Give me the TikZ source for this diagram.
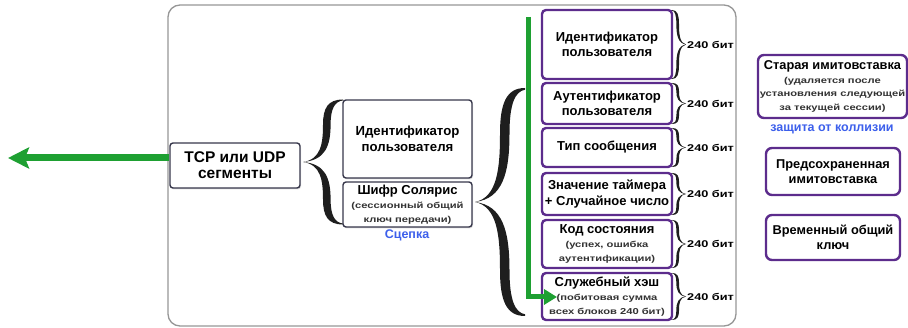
\documentclass[tikz,border=0pt]{standalone}
\usepackage{fontspec}
\setmainfont{Liberation Sans}
\newfontfamily\widesans[FakeStretch=1.3]{Liberation Sans}
\usetikzlibrary{shadows,arrows.meta}

\definecolor{framegray}{RGB}{150,150,150}
\definecolor{darkline}{RGB}{55,55,75}
\definecolor{purp}{RGB}{92,44,140}
\definecolor{grn}{RGB}{30,160,50}
\definecolor{linkblue}{RGB}{60,95,235}
\definecolor{subtext}{RGB}{50,50,50}
\definecolor{bracecol}{RGB}{30,30,30}

% filled typographic curly brace: tip at (#1,#2), arms reach horizontally by #3, half height #4
\newcommand\curlybr[4]{%
  \fill[bracecol, shift={(#1,#2)}, xscale=#3, yscale=#4]
    (1,1) .. controls (0.62,1) and (0.5,0.86) .. (0.5,0.6)
          .. controls (0.5,0.3) and (0.45,0.04) .. (0,0)
          .. controls (0.45,-0.04) and (0.5,-0.3) .. (0.5,-0.6)
          .. controls (0.5,-0.86) and (0.62,-1) .. (1,-1)
    -- (1,-0.985) .. controls (0.8,-0.97) and (0.69,-0.86) .. (0.69,-0.6)
          .. controls (0.69,-0.25) and (0.55,-0.03) .. (0,0)
          .. controls (0.55,0.03) and (0.69,0.25) .. (0.69,0.6)
          .. controls (0.69,0.86) and (0.8,0.97) .. (1,0.985) -- cycle;}

% small explanatory lines inside the boxes
\newcommand\sm{\color{subtext}\widesans\bfseries\fontsize{8.6}{11.5}\selectfont}

\tikzset{
  panel/.style={draw=framegray, line width=1.3pt, rounded corners=12pt, inner sep=0pt},
  darkbox/.style={draw=darkline, line width=1.4pt, rounded corners=3pt, fill=white,
    drop shadow={shadow xshift=1pt, shadow yshift=-1.5pt, opacity=.25},
    align=center, inner sep=0pt, font=\bfseries\fontsize{13.2}{15.5}\selectfont},
  pbox/.style={draw=purp, line width=2.4pt, rounded corners=4pt, fill=white,
    align=center, inner sep=0pt, font=\bfseries\fontsize{13}{15.5}\selectfont},
  sbox/.style={draw=purp, line width=2.4pt, rounded corners=6pt, fill=white,
    align=center, inner sep=0pt, font=\bfseries\fontsize{12.8}{15}\selectfont},
  bits/.style={anchor=west, inner sep=0pt, font=\widesans\bfseries\fontsize{9.8}{11}\selectfont},
  note/.style={inner sep=0pt, text=linkblue, font=\bfseries\fontsize{12.5}{13}\selectfont},
  gline/.style={draw=grn, line width=5pt},
  garrow/.style={draw=grn, line width=7pt, -{Stealth[length=21pt,width=21pt,inset=4pt]}},
}

\begin{document}
\begin{tikzpicture}[x=1pt, y=-1pt]
\useasboundingbox (0,0) rectangle (908,328);

% outer panel
\node[panel, minimum width=568pt, minimum height=321pt] (frame) at (452,165.5) {};

% left part: TCP/UDP segment
\node[darkbox, minimum width=130pt, minimum height=45pt, font=\bfseries\fontsize{15.5}{16}\selectfont]
  (tcp) at (235,165.5) {TCP или UDP\\сегменты};
\coordinate (out) at (8,158);
\draw[garrow] (tcp.west |- out) -- (out);

% concatenation of identifier and Solaris cipher
\curlybr{303}{162}{40}{62.5}
\node[darkbox, minimum width=129pt, minimum height=78pt] (uid) at (407.5,139)
  {Идентификатор\\пользователя};
\node[darkbox, minimum width=129pt, minimum height=45pt, font=\bfseries\fontsize{13}{14}\selectfont]
  (cipher) at (407.5,204.5)
  {Шифр Солярис\\\sm(сессионный общий\\\sm ключ передачи)};
\node[note] (link) at (407,235) {Сцепка};

% cipher blocks
\curlybr{475}{202}{50}{114}
\node[pbox, minimum width=130pt, minimum height=69pt] (b1) at (607,44.5)
  {Идентификатор\\пользователя};
\node[pbox, minimum width=130pt, minimum height=41pt] (b2) at (607,103.5)
  {Аутентификатор\\пользователя};
\node[pbox, minimum width=130pt, minimum height=39pt] (b3) at (607,147.5)
  {Тип сообщения};
\node[pbox, minimum width=130pt, minimum height=42pt] (b4) at (607,194)
  {Значение таймера\\+ Случайное число};
\node[pbox, minimum width=130pt, minimum height=48pt, font=\bfseries\fontsize{13}{14}\selectfont]
  (b5) at (607,244)
  {Код состояния\\\sm(успех, ошибка\\\sm аутентификации)};
\node[pbox, minimum width=130pt, minimum height=47pt, font=\bfseries\fontsize{13}{14}\selectfont]
  (b6) at (607,296.5)
  {Служебный хэш\\\sm(побитовая сумма\\\sm всех блоков 240 бит)};

% block sizes
\foreach \c/\h in {44.5/34.5, 103.5/20.5, 147.5/19.5, 194/21, 244/24, 296.5/23.5}{
  \curlybr{686}{\c}{-14}{\h}
}
\node[bits] (s1) at (687,44.5) {240 бит};
\node[bits] (s2) at (687,103.5) {240 бит};
\node[bits] (s3) at (687,147.5) {240 бит};
\node[bits] (s4) at (687,194) {240 бит};
\node[bits] (s5) at (687,244) {240 бит};
\node[bits] (s6) at (687,296.5) {240 бит};

% processing order
\coordinate (gtop) at (528,17);
\coordinate (gbend) at (528,297);
\coordinate (gtip) at (557,297);
\draw[gline, line join=miter, -{Triangle[length=13pt,width=15pt]}] (gtop) -- (gbend) -- (gtip);

% stored values
\node[sbox, minimum width=149pt, minimum height=63pt, font=\bfseries\fontsize{12.8}{13.5}\selectfont]
  (old) at (832.5,86.5)
  {Старая имитовставка\\\sm(удаляется после\\\sm установления следующей\\\sm за текущей сессии)};
\node[note] (coll) at (832,129) {защита от коллизии};
\node[sbox, minimum width=134pt, minimum height=47pt] (pre) at (833,171.5)
  {Предсохраненная\\имитовставка};
\node[sbox, minimum width=134pt, minimum height=45pt] (tmp) at (833,237.5)
  {Временный общий\\ключ};
\end{tikzpicture}
\end{document}
